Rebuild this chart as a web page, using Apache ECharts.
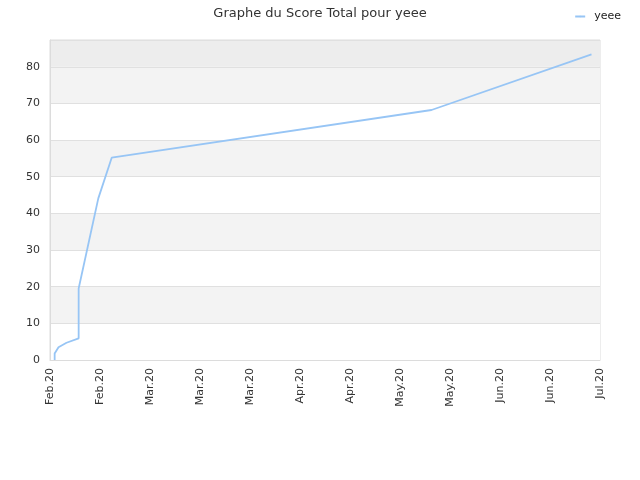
<!DOCTYPE html>
<html>
<head>
    <meta charset="utf-8">
    <title>Graphe du Score Total</title>
    <script src="https://cdn.jsdelivr.net/npm/echarts@6/dist/echarts.min.js"></script>
</head>
<body style="margin:0">
<div id="main" style="width:640px;height:480px;"></div>
<script type="text/javascript">
// tick labels along the date axis (one per tick position)
var tickLabels = ['Feb.20', 'Feb.20', 'Mar.20', 'Mar.20', 'Mar.20', 'Apr.20',
    'Apr.20', 'May.20', 'May.20', 'Jun.20', 'Jun.20', 'Jul.20'];

// position of each score point, measured in tick steps from the first tick
var pointPos = [0.093, 0.093, 0.17, 0.33, 0.573, 0.573, 0.966, 1.234, 7.63, 10.83];
// total score at each point
var scores = [0, 1.8, 3.5, 4.7, 5.9, 19.5, 44.1, 55.2, 68.2, 83.4];

var seriesName = 'yeee';

var myChart = echarts.init(document.getElementById('main'));

var lineData = pointPos.map(function (p, i) { return [p, scores[i]]; });

var option = {
    backgroundColor: '#fff',
    animation: false,
    title: {
        text: 'Graphe du Score Total pour yeee',
        left: 'center',
        top: 2,
        textStyle: {
            fontFamily: 'DejaVu Sans',
            fontWeight: 'normal',
            fontSize: 13,
            color: '#333'
        }
    },
    legend: {
        right: 14,
        top: 6,
        itemWidth: 10,
        itemHeight: 2,
        itemGap: 6,
        textStyle: { fontFamily: 'DejaVu Sans', fontSize: 11, color: '#222', padding: [0, 0, 0, 4] },
        data: [seriesName]
    },
    grid: {
        left: 50,
        right: 40,
        top: 40,
        bottom: 120,
        show: true,
        borderColor: '#dcdcdc',
        borderWidth: 1,
        backgroundColor: 'transparent'
    },
    xAxis: {
        type: 'value',
        min: 0,
        max: tickLabels.length - 1,
        interval: 1,
        axisLine: { lineStyle: { color: '#dcdcdc' } },
        axisTick: { show: false },
        splitLine: { show: false },
        axisLabel: {
            rotate: 90,
            fontFamily: 'DejaVu Sans',
            fontSize: 11,
            color: '#333',
            margin: 8,
            formatter: function (v) { return tickLabels[Math.round(v)] || ''; }
        }
    },
    yAxis: {
        type: 'value',
        min: 0,
        max: 87.3,
        interval: 10,
        axisLine: { show: true, lineStyle: { color: '#dcdcdc' } },
        axisTick: { show: false },
        axisLabel: {
            fontFamily: 'DejaVu Sans',
            fontSize: 11,
            color: '#333',
            margin: 10,
            formatter: function (v) { return v % 10 === 0 ? String(v) : ''; }
        },
        splitLine: { lineStyle: { color: '#e0e0e0' } },
        splitArea: {
            show: true,
            areaStyle: {
                color: ['#ffffff', '#f3f3f3', '#ffffff', '#f3f3f3', '#ffffff',
                    '#f3f3f3', '#ffffff', '#f3f3f3', '#ededed']
            }
        }
    },
    series: [{
        name: seriesName,
        type: 'line',
        symbol: 'none',
        lineStyle: { color: '#97c5f5', width: 1.8 },
        itemStyle: { color: '#97c5f5' },
        data: lineData
    }]
};

myChart.setOption(option);
</script>
</body>
</html>
